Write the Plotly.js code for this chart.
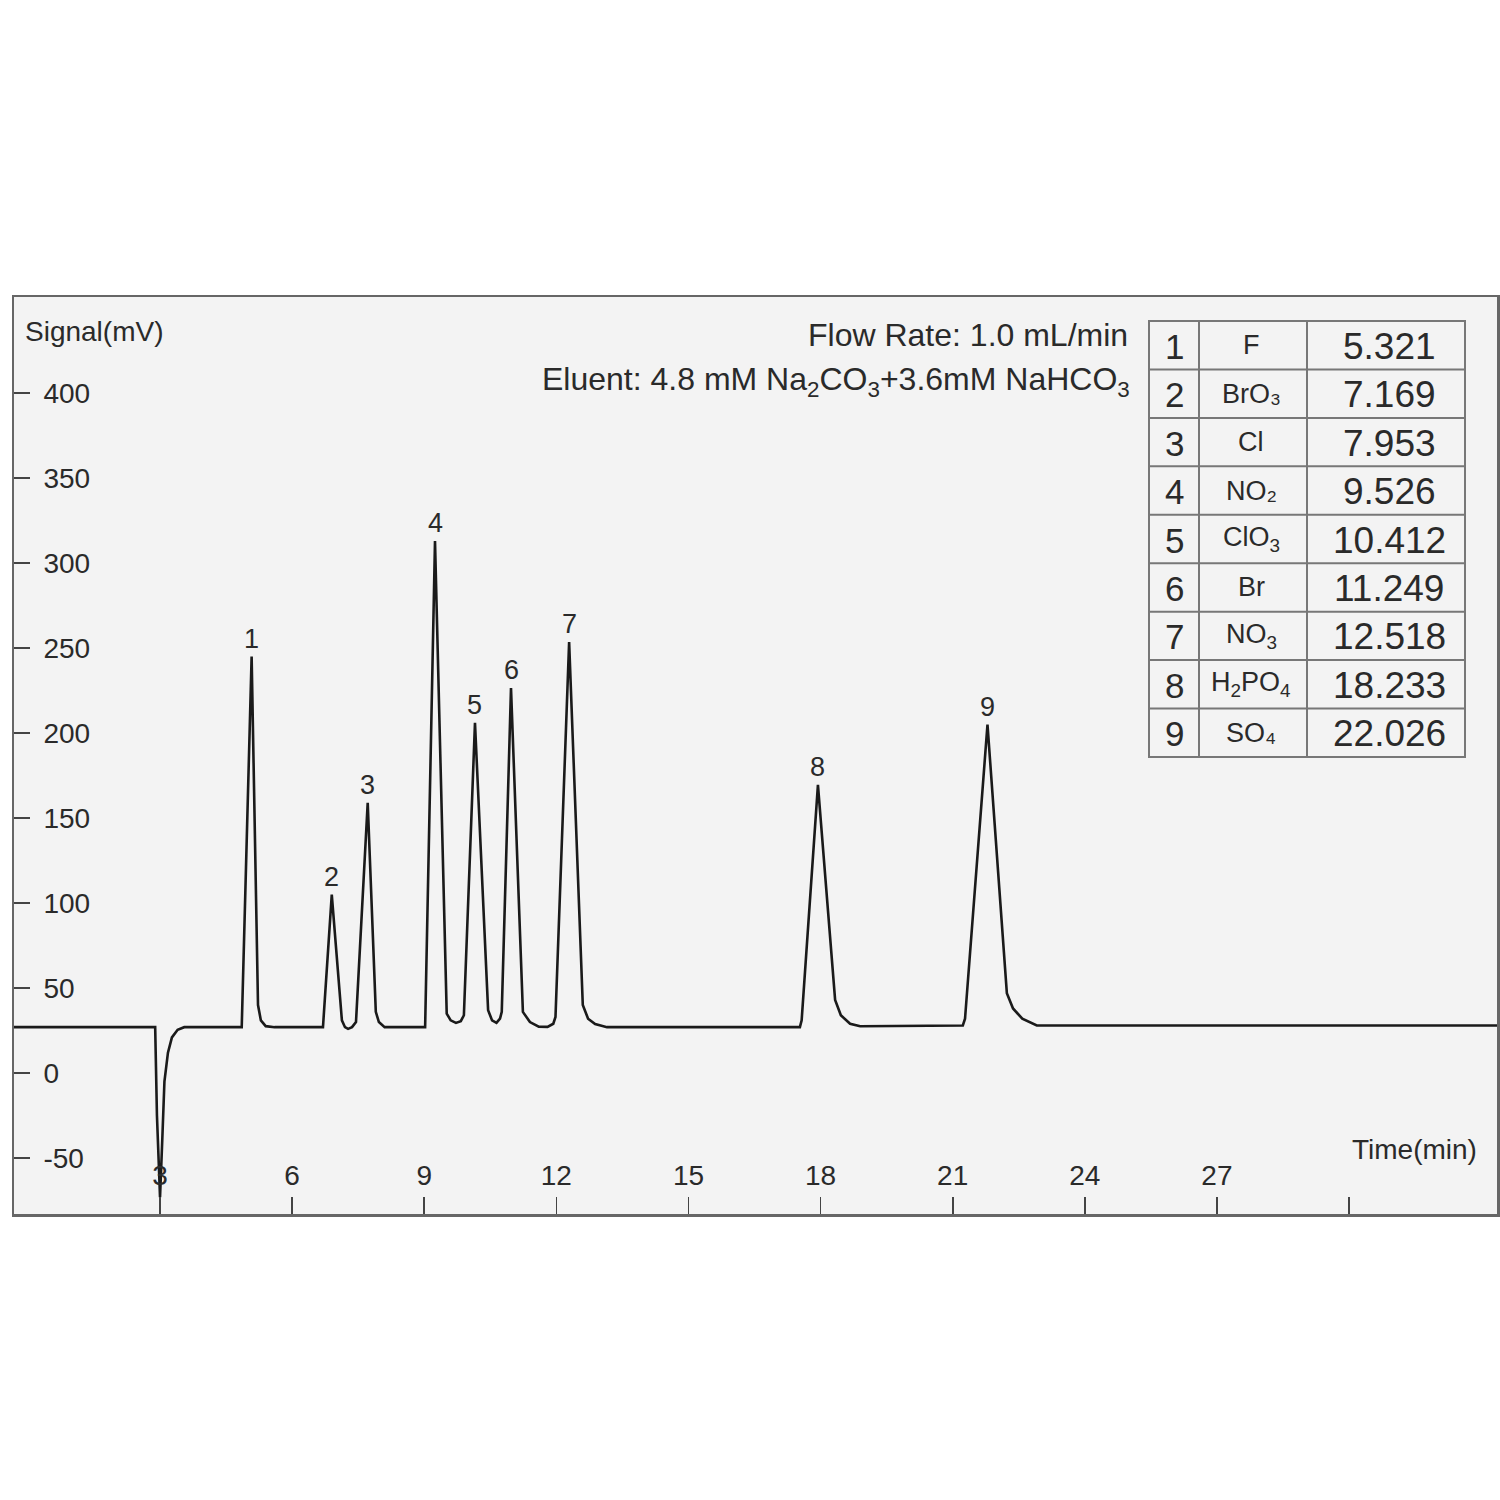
<!DOCTYPE html>
<html>
<head>
<meta charset="utf-8">
<script src="https://cdn.plot.ly/plotly-3.0.1.min.js"></script>
<style>html,body{margin:0;padding:0;background:#fff;}#chart{width:1500px;height:1500px;}</style>
</head>
<body>
<div id="chart"></div>
<script>
// ---- chromatogram trace ----
const time = [-0.5, 2.89, 2.93, 3.00, 3.05, 3.10, 3.18, 3.27, 3.40, 3.55,
  4.855, 5.08, 5.225, 5.29, 5.40, 5.60,
  6.70, 6.90, 7.13, 7.20, 7.27, 7.36, 7.45, 7.716, 7.90, 7.97, 8.10,
  9.02, 9.244, 9.51, 9.60, 9.72, 9.83, 9.90, 10.152, 10.45, 10.54, 10.64, 10.72, 10.76,
  10.97, 11.24, 11.40, 11.60, 11.80, 11.93, 11.98, 12.29, 12.60, 12.72, 12.88, 13.15,
  17.53, 17.57, 17.94, 18.33, 18.46, 18.67, 18.90,
  21.23, 21.28, 21.79, 22.23, 22.37, 22.58, 22.91, 34];
const signal = [27, 27, -25, -73, -40, -5, 12, 21, 25.5, 27,
  27, 245, 40, 31, 27.6, 27,
  27, 105, 31, 27, 26, 27, 30, 159, 36, 30, 27,
  27, 313, 35, 31, 29.5, 30.5, 34, 206, 37, 31, 29.5, 32, 36,
  226.5, 36, 30, 27.3, 27.2, 29, 33, 253.5, 40, 32, 28.8, 27,
  27, 31, 169.5, 43, 34, 29, 27.5,
  28, 32, 205, 47, 38, 32, 28, 28];

// ---- peak labels ----
const peakNo = ['1','2','3','4','5','6','7','8','9'];
const peakTime = [5.08, 6.90, 7.716, 9.244, 10.152, 10.97, 12.29, 17.94, 21.79];
const peakSignal = [245, 105, 159, 313, 206, 226.5, 253.5, 169.5, 205];

// ---- table ----
const ionNo = ['1','2','3','4','5','6','7','8','9'];
const ionName = ['F','BrO\u2083','Cl','NO\u2082','ClO<sub>3</sub>','Br','NO<sub>3</sub>','H<sub>2</sub>PO<sub>4</sub>','SO\u2084'];
const retTime = ['5.321','7.169','7.953','9.526','10.412','11.249','12.518','18.233','22.026'];

// ---- ticks ----
const xTickVals = [3,6,9,12,15,18,21,24,27,30];
const xTickText = ['3','6','9','12','15','18','21','24','27',''];
const yTickVals = [-50,0,50,100,150,200,250,300,350,400];
const yTickText = ['-50','0','50','100','150','200','250','300','350','400'];

// layout helpers (pixel -> paper)
const L = 14, R = 1497, T = 297, B = 1214;
const PX = p => (p - L) / (R - L);
const PY = p => (B - p) / (B - T);
const FONT = 'Liberation Sans, Arial, sans-serif';
const TXT = '#2a2a2a';

const annotations = [];
peakNo.forEach((n, i) => annotations.push({
  x: peakTime[i], y: peakSignal[i], xref: 'x', yref: 'y', text: n, showarrow: false,
  xanchor: 'center', yanchor: 'bottom', yshift: 1, font: {family: FONT, size: 27, color: TXT}
}));
annotations.push({x: PX(23), y: PY(331), xref: 'paper', yref: 'paper', text: 'Signal(mV)', showarrow: false,
  xanchor: 'left', yanchor: 'middle', font: {family: FONT, size: 28, color: TXT}});
annotations.push({x: PX(1479), y: PY(1149), xref: 'paper', yref: 'paper', text: 'Time(min)', showarrow: false,
  xanchor: 'right', yanchor: 'middle', font: {family: FONT, size: 28, color: TXT}});
annotations.push({x: PX(1130), y: PY(335), xref: 'paper', yref: 'paper', text: 'Flow Rate: 1.0 mL/min', showarrow: false,
  xanchor: 'right', yanchor: 'middle', font: {family: FONT, size: 32, color: TXT}});
annotations.push({x: PX(1132), y: PY(381), xref: 'paper', yref: 'paper',
  text: 'Eluent: 4.8 mM Na<sub>2</sub>CO<sub>3</sub>+3.6mM NaHCO<sub>3</sub>', showarrow: false,
  xanchor: 'right', yanchor: 'middle', font: {family: FONT, size: 32, color: TXT}});

// table geometry
const tL = 1149, tR = 1465, tT = 321, tB = 757, c1 = 1199, c2 = 1307;
const rowH = (tB - tT) / 9;
const shapes = [];
const lineStyle = {color: '#777', width: 2};
shapes.push({type: 'rect', xref: 'paper', yref: 'paper', x0: PX(tL), x1: PX(tR), y0: PY(tT), y1: PY(tB), line: lineStyle});
[c1, c2].forEach(c => shapes.push({type: 'line', xref: 'paper', yref: 'paper', x0: PX(c), x1: PX(c), y0: PY(tT), y1: PY(tB), line: lineStyle}));
for (let r = 1; r < 9; r++) {
  const yy = tT + r * rowH;
  shapes.push({type: 'line', xref: 'paper', yref: 'paper', x0: PX(tL), x1: PX(tR), y0: PY(yy), y1: PY(yy), line: lineStyle});
}
ionNo.forEach((n, i) => {
  const yc = tT + (i + 0.5) * rowH;
  annotations.push({x: PX((tL + c1) / 2), y: PY(yc + 1), xref: 'paper', yref: 'paper', text: n, showarrow: false,
    xanchor: 'center', yanchor: 'middle', font: {family: FONT, size: 35, color: TXT}});
  annotations.push({x: PX((c1 + c2) / 2 - 2), y: PY(yc), xref: 'paper', yref: 'paper', text: ionName[i], showarrow: false,
    xanchor: 'center', yanchor: 'middle', font: {family: FONT, size: 27, color: TXT}});
  annotations.push({x: PX(1389), y: PY(yc + 1), xref: 'paper', yref: 'paper', text: retTime[i], showarrow: false,
    xanchor: 'center', yanchor: 'middle', font: {family: FONT, size: 37, color: TXT}});
});

const trace = {x: time, y: signal, type: 'scatter', mode: 'lines',
  line: {color: '#1a1a1a', width: 2.6, shape: 'linear'}, hoverinfo: 'skip'};

const layout = {
  width: 1500, height: 1500,
  margin: {l: L, r: 1500 - R, t: T, b: 1500 - B, pad: 0},
  paper_bgcolor: '#ffffff', plot_bgcolor: '#f3f3f3',
  showlegend: false,
  xaxis: {range: [-0.316, 33.36], tickvals: xTickVals, ticktext: xTickText,
    ticks: 'inside', ticklen: 17, tickwidth: 1.6, tickcolor: '#444',
    ticklabelposition: 'inside', ticklabelstandoff: 9,
    tickfont: {family: FONT, size: 28, color: TXT},
    showgrid: false, zeroline: false, showline: true, linecolor: '#666', linewidth: 2.5, mirror: true},
  yaxis: {range: [-82.9, 456.5], tickvals: yTickVals, ticktext: yTickText,
    ticks: 'inside', ticklen: 16, tickwidth: 1.6, tickcolor: '#444',
    ticklabelposition: 'inside', ticklabelstandoff: 16,
    tickfont: {family: FONT, size: 28, color: TXT},
    showgrid: false, zeroline: false, showline: true, linecolor: '#666', linewidth: 2.5, mirror: true},
  annotations: annotations,
  shapes: shapes
};

Plotly.newPlot('chart', [trace], layout, {staticPlot: true, displayModeBar: false});
</script>
</body>
</html>
